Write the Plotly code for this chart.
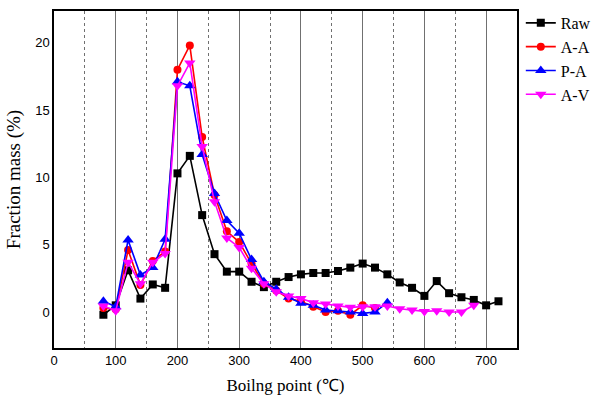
import plotly.graph_objects as go

# Boiling point (°C)
x_raw = [80, 100, 120, 140, 160, 180, 200, 220, 240, 260, 280, 300, 320, 340, 360, 380,
         400, 420, 440, 460, 480, 500, 520, 540, 560, 580, 600, 620, 640, 660, 680, 700, 720]
raw = [-0.2, 0.5, 3.1, 1.0, 2.05, 1.8, 10.3, 11.6, 7.2, 4.3, 3.0, 3.0, 2.25, 1.85, 2.25, 2.6,
       2.8, 2.9, 2.9, 3.05, 3.3, 3.6, 3.3, 2.8, 2.2, 1.8, 1.2, 2.3, 1.4, 1.1, 0.9, 0.5, 0.8]

x_aa = [80, 100, 120, 140, 160, 180, 200, 220, 240, 260, 280, 300, 320, 340, 360, 380,
        400, 420, 440, 460, 480, 500, 520]
aa = [0.3, 0.2, 4.6, 2.0, 3.8, 4.5, 18.0, 19.8, 13.0, 8.7, 6.0, 5.2, 3.6, 2.1, 1.6, 1.0,
      0.8, 0.4, 0.0, 0.1, -0.2, 0.5, 0.3]

x_pa = [80, 100, 120, 140, 160, 180, 200, 220, 240, 260, 280, 300, 320, 340, 360, 380,
        400, 420, 440, 460, 480, 500, 520, 540]
pa = [0.8, 0.4, 5.35, 2.75, 3.3, 5.4, 17.1, 16.8, 11.7, 8.8, 6.8, 5.85, 3.9, 2.25, 1.7, 1.1,
      0.65, 0.5, 0.15, 0.1, 0.0, -0.1, 0.0, 0.7]

x_av = [80, 100, 120, 140, 160, 180, 200, 220, 240, 260, 280, 300, 320, 340, 360, 380,
        400, 420, 440, 460, 480, 500, 520, 540, 560, 580, 600, 620, 640, 660, 680]
av = [0.45, 0.1, 3.7, 2.1, 3.7, 4.35, 16.8, 18.5, 12.3, 8.2, 5.5, 4.8, 3.25, 2.1, 1.5, 1.2,
      1.0, 0.7, 0.6, 0.45, 0.35, 0.4, 0.4, 0.45, 0.25, 0.15, 0.05, 0.1, 0.0, 0.0, 0.5]

series = [
    ("Raw", x_raw, raw, "#000000", "square", 8),
    ("A-A", x_aa, aa, "#FF0000", "circle", 8),
    ("P-A", x_pa, pa, "#0000FF", "triangle-up", 10),
    ("A-V", x_av, av, "#FF00FF", "triangle-down", 10),
]

fig = go.Figure()
for name, xs, ys, col, sym, sz in series:
    fig.add_trace(go.Scatter(
        x=xs, y=ys, name=name, mode="lines+markers",
        line=dict(color=col, width=1.6),
        marker=dict(color=col, symbol=sym, size=sz, line=dict(width=0)),
    ))

serif = "Liberation Serif, Times New Roman, serif"

fig.update_layout(
    width=600, height=397,
    margin=dict(l=54, r=83, t=11, b=49, autoexpand=False),
    paper_bgcolor="white", plot_bgcolor="white",
    font=dict(family="Liberation Sans, Arial, sans-serif", size=13, color="black"),
    showlegend=True,
    legend=dict(
        xref="container", yref="container",
        x=0.868, y=0.985, xanchor="left", yanchor="top",
        font=dict(family=serif, size=16, color="black"),
        bgcolor="rgba(0,0,0,0)", borderwidth=0, tracegroupgap=0,
    ),
    xaxis=dict(
        range=[0, 750], tickmode="linear", tick0=0, dtick=100,
        showgrid=True, gridcolor="#707070", gridwidth=1,
        minor=dict(tick0=50, dtick=100, showgrid=True, gridcolor="#707070",
                   griddash="dot", gridwidth=1),
        showline=True, linecolor="black", linewidth=1.5, mirror=True,
        ticks="", zeroline=False, automargin=False,
        title=dict(text="Boilng point (℃)", standoff=12,
                   font=dict(family=serif, size=17)),
    ),
    yaxis=dict(
        range=[-2.67, 22.36], tickmode="linear", tick0=0, dtick=5,
        showgrid=False, zeroline=False, automargin=False,
        showline=True, linecolor="black", linewidth=1.5, mirror=True,
        ticks="",
        title=dict(text="Fraction mass (%)", standoff=10,
                   font=dict(family=serif, size=19)),
    ),
)

fig.write_html("out.html")
